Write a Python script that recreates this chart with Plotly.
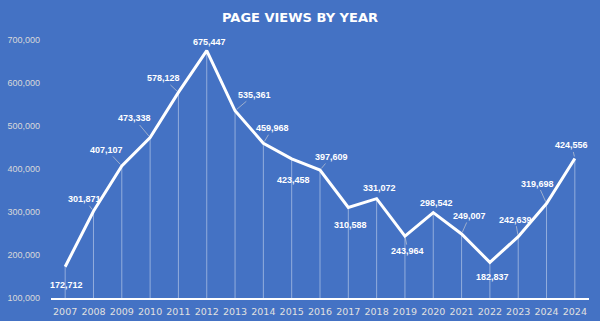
import plotly.graph_objects as go

years = ["2007", "2008", "2009", "2010", "2011", "2012", "2013", "2014", "2015", "2016",
         "2017", "2018", "2019", "2020", "2021", "2022", "2023", "2024", "2024"]
views = [172712, 301871, 407107, 473338, 578128, 675447, 535361, 459968, 423458, 397609,
         310588, 331072, 243964, 298542, 249007, 182837, 242639, 319698, 424556]
y_ticks = [100000, 200000, 300000, 400000, 500000, 600000, 700000]

# label offsets in pixels (dx, dy) relative to each point, and whether a leader line is drawn
label_offsets = [(1, 18), (-9, -12), (-15, -16), (-16, -19), (-15, -14), (3, -9), (19, -16),
                 (9, -15), (2, 21), (11, -13), (2, 18), (3, -11), (3, 15), (3, -10),
                 (8, -18), (3, 15), (-3, -17), (-9, -20), (-3, -13)]
leaders = [False, True, True, True, True, False, True, True, False, True, False, False,
           True, False, True, False, True, True, True]

BG = "#4472C4"
idx = list(range(len(years)))

fig = go.Figure()

# drop lines
dx, dy = [], []
for i, v in zip(idx, views):
    dx += [i, i, None]
    dy += [v, y_ticks[0], None]
fig.add_trace(go.Scatter(x=dx, y=dy, mode="lines",
                         line=dict(color="rgba(255,255,255,0.42)", width=1),
                         hoverinfo="skip", showlegend=False))

fig.add_trace(go.Scatter(x=idx, y=views, mode="lines",
                         line=dict(color="white", width=3),
                         showlegend=False))

for i, v in enumerate(views):
    ox, oy = label_offsets[i]
    fig.add_annotation(x=i, y=v, xref="x", yref="y", text=f"{v:,}",
                       showarrow=leaders[i], ax=ox, ay=oy,
                       arrowhead=0, arrowwidth=0.8, arrowcolor="rgba(210,210,210,0.8)",
                       standoff=2,
                       xshift=0 if leaders[i] else ox, yshift=0 if leaders[i] else -oy,
                       font=dict(family="Arial", size=9, color="white", weight="bold"))

fig.update_layout(
    width=600, height=321,
    paper_bgcolor=BG, plot_bgcolor=BG,
    margin=dict(l=51, r=11, t=40, b=23),
    title=dict(text="<b>PAGE VIEWS BY YEAR</b>", x=0.5, xanchor="center", y=0.945, yanchor="middle",
               font=dict(family="DejaVu Sans", size=13, color="white")),
    xaxis=dict(tickmode="array", tickvals=idx, ticktext=years, range=[-0.5, len(years) - 0.5],
               showgrid=False, zeroline=False, showline=True, linecolor="white", linewidth=1.5,
               ticks="", ticklabelstandoff=4, automargin=False,
               tickfont=dict(family="DejaVu Sans", size=9.5, color="#E0E0E0")),
    yaxis=dict(tickmode="array", tickvals=y_ticks, ticktext=[f"{t:,}" for t in y_ticks],
               range=[y_ticks[0], y_ticks[-1]], showgrid=False, zeroline=False, showline=False,
               ticks="", ticklabelstandoff=10, automargin=False,
               tickfont=dict(family="Arial", size=9, color="#D9D9D9")),
)

fig.write_html("out.html")
